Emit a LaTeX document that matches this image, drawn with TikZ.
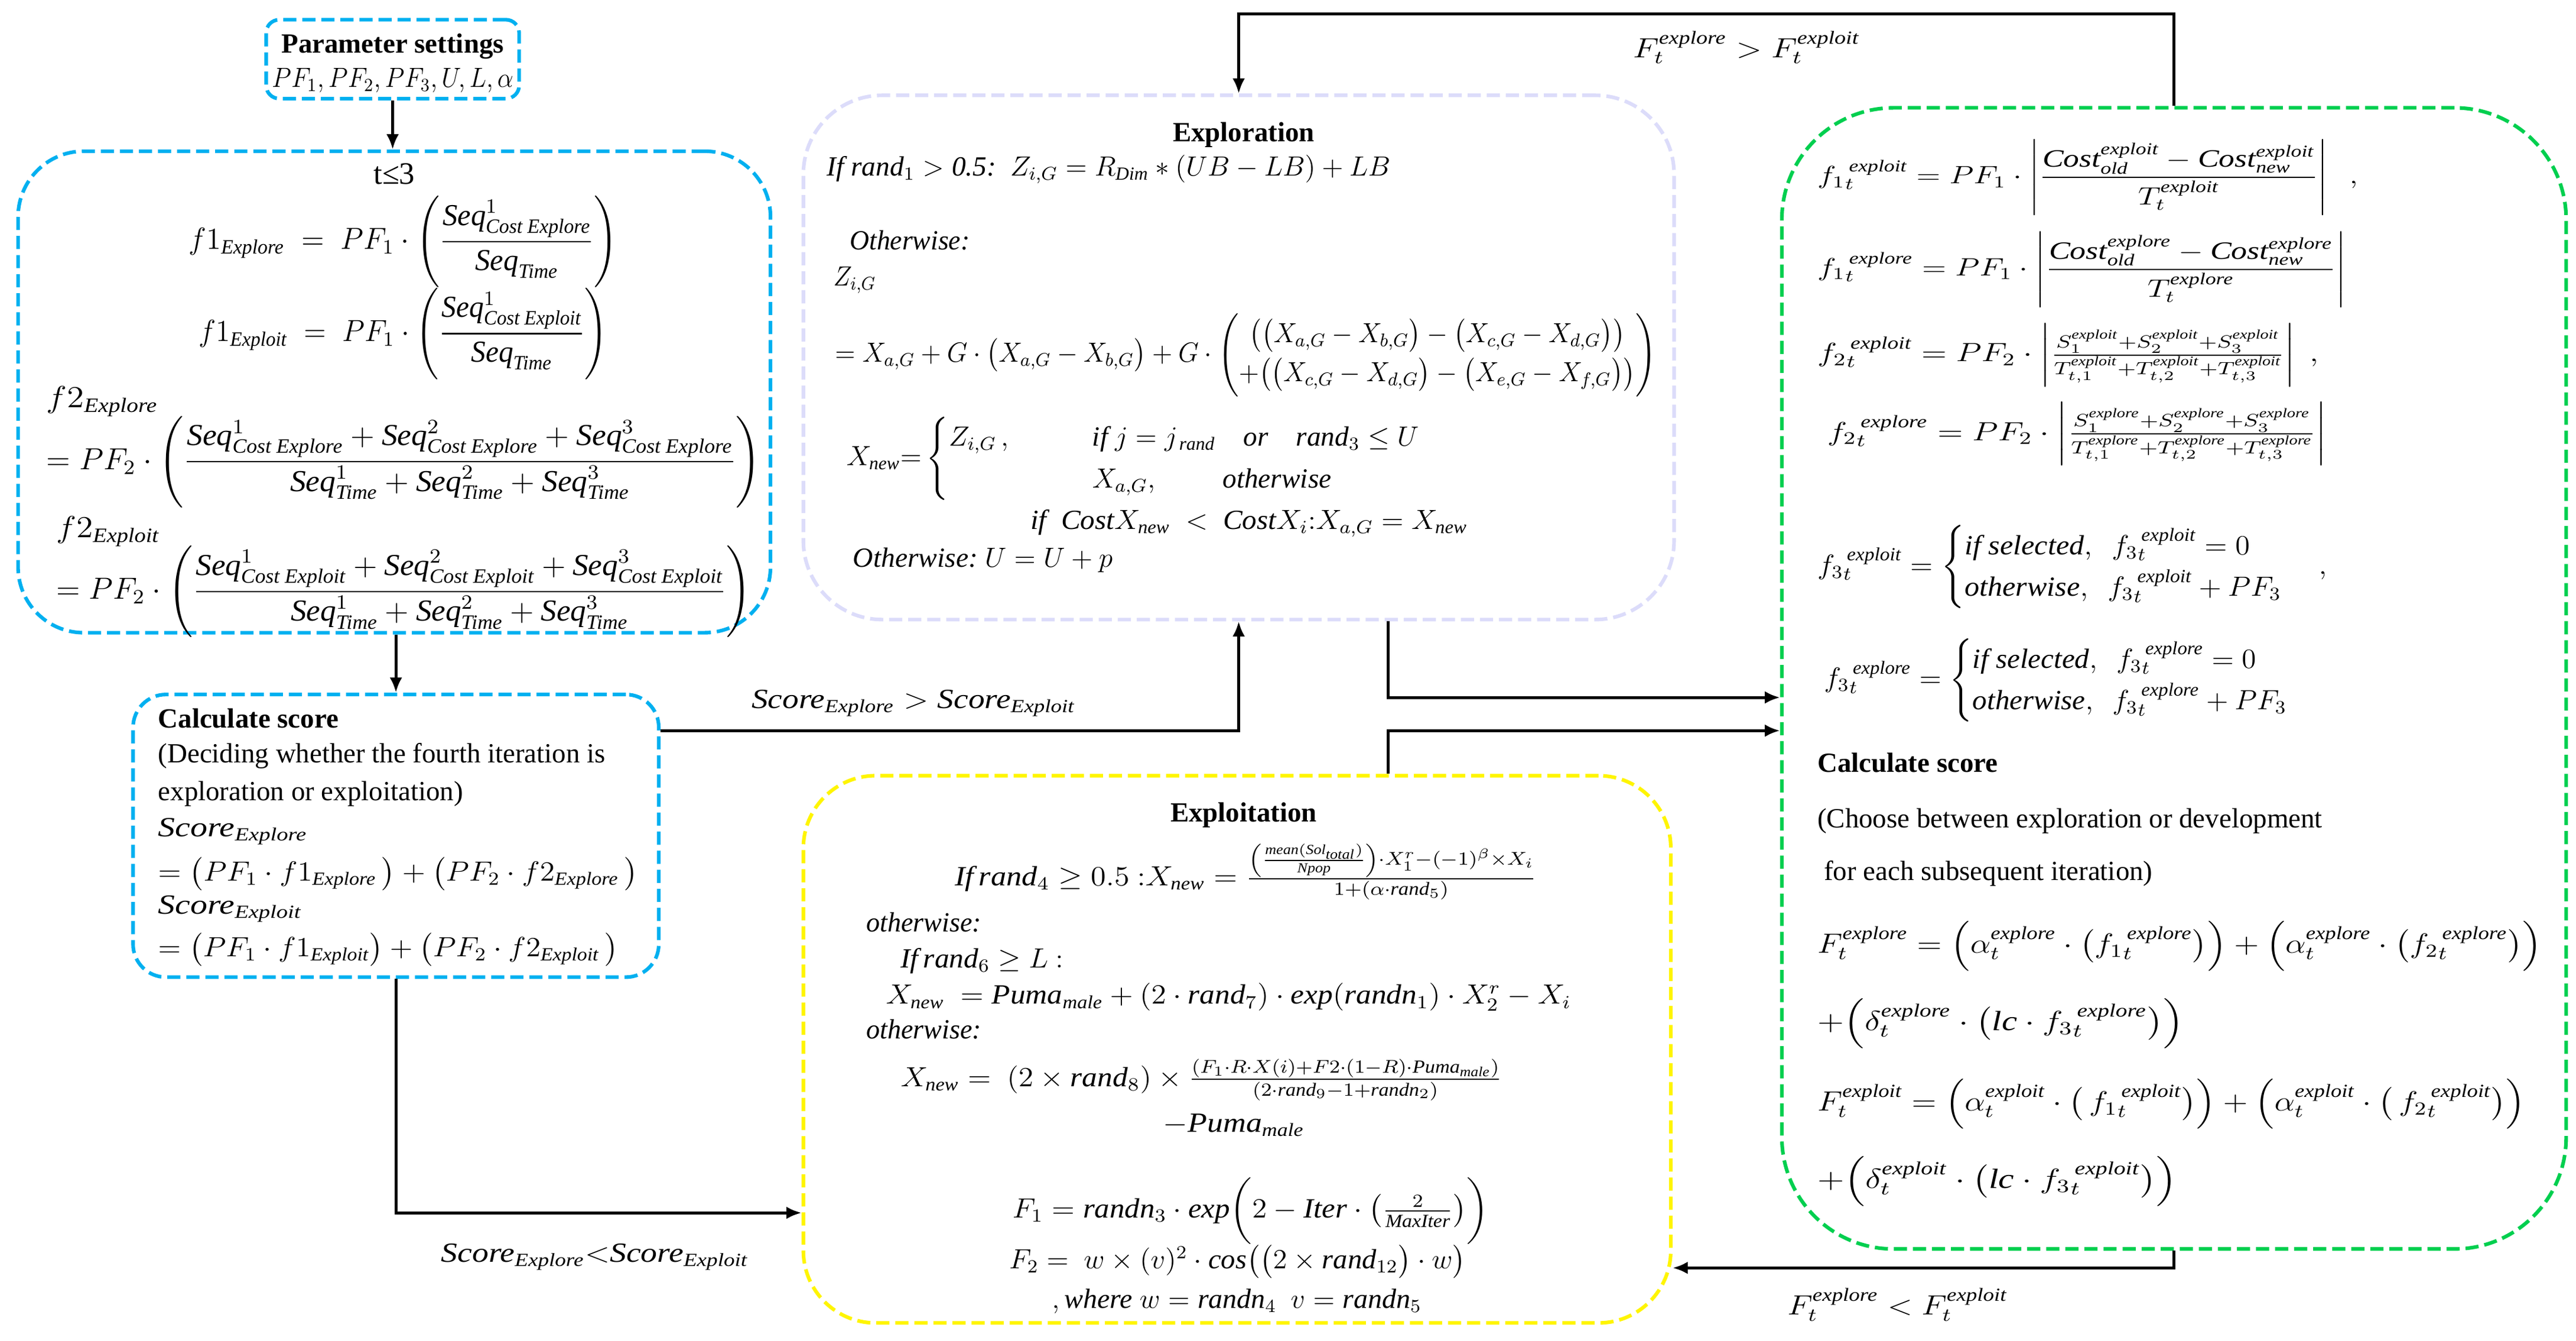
\documentclass[tikz,border=0pt]{standalone}
\usepackage{amsmath}
\usepackage{graphicx}
\usepackage{fontspec}
\setmainfont{Liberation Serif}
\usetikzlibrary{arrows.meta,fit}
\definecolor{cyanb}{HTML}{00B0F0}
\definecolor{lav}{HTML}{DCDCFA}
\definecolor{yel}{HTML}{FFF500}
\definecolor{grn}{HTML}{00CF4F}
\newlength\qu
\setlength\qu{0.25mm}
\newsavebox\zbox
\newcommand\mi[1]{\text{\itshape #1}}
% \rz[vertical factor]{target width in units}{content}
\newcommand\rz[3][1]{\sbox\zbox{#3}\resizebox{#2\qu}{#1\ht\zbox}{\usebox\zbox}}
\begin{document}
\begin{tikzpicture}[x=0.25mm,y=-0.25mm,
  box/.style={draw, line width=0.55mm, dash pattern=on 2mm off 0.9mm, inner sep=0pt},
  tx/.style={inner sep=0pt, font=\fontsize{12}{15}\selectfont},
  title/.style={tx, font=\fontsize{12}{15}\selectfont\bfseries, anchor=base},
  arr/.style={draw=black, line width=0.45mm, -{Latex[length=2.3mm,width=1.9mm]}}]
\fill[white] (0,0) rectangle (1568,816);
\useasboundingbox (0,0) rectangle (1568,816);

% boxes
\node[box, draw=cyanb, rounded corners=2mm, fit={(162,12) (316,60)}] (param) {};
\node[box, draw=cyanb, rounded corners=10mm, fit={(11,92) (469,385)}] (t3) {};
\node[box, draw=cyanb, rounded corners=5mm, fit={(81,422.6) (401,594.6)}] (calc) {};
\node[box, draw=lav, rounded corners=12mm, fit={(489,58) (1019,377)}] (explor) {};
\node[box, draw=yel, rounded corners=11mm, fit={(489,472) (1017,805)}] (exploit) {};
\node[box, draw=grn, rounded corners=17mm, fit={(1084.6,65.6) (1562,760)}] (green) {};

% parameter settings
\node[title] (pt) at (239,32) {Parameter settings};
\node[tx, anchor=base] (pv) at (239,53) {\rz{147}{$PF_1, PF_2, PF_3, U, L, \alpha$}};

% t<=3 box
\node[tx, anchor=base, font=\fontsize{13.5}{16}\selectfont] (t3h) at (240,112) {t≤3};
\node[tx] (f1e) at (245.5,147) {\rz[1.1]{261}{$\displaystyle f1_{\mi{Explore}} \;=\; PF_1\cdot\left(\frac{\mi{Seq}^1_{\mi{Cost Explore}}}{\mi{Seq}_{\mi{Time}}}\right)$}};
\node[tx] (f1x) at (245.5,203) {\rz[1.1]{249}{$\displaystyle f1_{\mi{Exploit}} \;=\; PF_1\cdot\left(\frac{\mi{Seq}^1_{\mi{Cost Exploit}}}{\mi{Seq}_{\mi{Time}}}\right)$}};
\node[tx, anchor=base west] (f2el) at (28,248) {\rz[1.1]{68}{$f2_{\mi{Explore}}$}};
\node[tx, anchor=west] (f2e) at (28,281) {\rz[1.1]{435}{$\displaystyle = PF_2\cdot\left(\frac{\mi{Seq}^1_{\mi{Cost Explore}}+\mi{Seq}^2_{\mi{Cost Explore}}+\mi{Seq}^3_{\mi{Cost Explore}}}{\mi{Seq}^1_{\mi{Time}}+\mi{Seq}^2_{\mi{Time}}+\mi{Seq}^3_{\mi{Time}}}\right)$}};
\node[tx, anchor=base west] (f2xl) at (34,327) {\rz[1.1]{63}{$f2_{\mi{Exploit}}$}};
\node[tx, anchor=west] (f2x) at (34,360) {\rz[1.1]{423}{$\displaystyle = PF_2\cdot\left(\frac{\mi{Seq}^1_{\mi{Cost Exploit}}+\mi{Seq}^2_{\mi{Cost Exploit}}+\mi{Seq}^3_{\mi{Cost Exploit}}}{\mi{Seq}^1_{\mi{Time}}+\mi{Seq}^2_{\mi{Time}}+\mi{Seq}^3_{\mi{Time}}}\right)$}};

% calculate score (left)
\node[title, anchor=base west] (cs1) at (96,443) {Calculate score};
\node[tx, anchor=base west] (cs2) at (96,464) {(Deciding whether the fourth iteration is};
\node[tx, anchor=base west] (cs3) at (96,487) {exploration or exploitation)};
\node[tx, anchor=base west] (cs4) at (96,509) {\rz{91}{$\mi{Score}_{\mi{Explore}}$}};
\node[tx, anchor=base west] (cs5) at (96,536) {\rz{292}{$=\bigl(PF_1\cdot f1_{\mi{Explore}}\,\bigr) + \bigl(PF_2\cdot f2_{\mi{Explore}}\,\bigr)$}};
\node[tx, anchor=base west] (cs6) at (96,556) {\rz{87.5}{$\mi{Score}_{\mi{Exploit}}$}};
\node[tx, anchor=base west] (cs7) at (96,582) {\rz{280}{$=\bigl(PF_1\cdot f1_{\mi{Exploit}}\bigr) + \bigl(PF_2\cdot f2_{\mi{Exploit}}\,\bigr)$}};

% exploration
\node[title] (exh) at (757,86) {Exploration};
\node[tx, anchor=base west] (ex1) at (503,107) {\rz{343}{$\mi{If}\ \mi{rand}_1 > \mi{0.5:}\ \ Z_{i,G} = R_{\mi{Dim}} * (UB - LB) + LB$}};
\node[tx, anchor=base west] (ex2) at (517,152) {\rz{73}{$\mi{Otherwise:}$}};
\node[tx, anchor=base west] (ex3) at (507,174) {\rz{26}{$Z_{i,G}$}};
\node[tx, anchor=west] (ex4) at (508,216) {\rz{500}{$\displaystyle = X_{a,G} + G\cdot\bigl(X_{a,G} - X_{b,G}\bigr) + G\cdot\left(\begin{matrix}\bigl(\bigl(X_{a,G} - X_{b,G}\bigr) - \bigl(X_{c,G} - X_{d,G}\bigr)\bigr)\\[2pt] +\bigl(\bigl(X_{c,G} - X_{d,G}\bigr) - \bigl(X_{e,G} - X_{f,G}\bigr)\bigr)\end{matrix}\right)$}};
\node[tx, anchor=west] (ex5) at (515,279) {\rz{350}{$X_{\mi{new}}{=}\begin{cases} Z_{i,G}\,,\qquad & \mi{if}\ j = j_{\,\mi{rand}}\quad \mi{or}\quad \mi{rand}_3\le U\\ & X_{a,G},\qquad\ \mi{otherwise}\end{cases}$}};
\node[tx, anchor=base west] (ex6) at (627,322) {\rz{266}{$\mi{if}\ \ \mi{Cost}X_{\mi{new}}\ <\ \mi{Cost}X_i{:}X_{a,G} = X_{\mi{new}}$}};
\node[tx, anchor=base west] (ex7) at (519,345) {\rz{158}{$\mi{Otherwise:}\ U = U + p$}};

% exploitation
\node[title] (xh) at (757,500) {Exploitation};
\node[tx, anchor=base west] (xp1) at (581,539) {\rz{354}{$\mi{If}\,\mi{rand}_4\geq 0.5\ {:}X_{\mi{new}} = \frac{\left(\frac{\mi{mean}(\mi{Sol}_{\mi{total}})}{\mi{Npop}}\right)\cdot X_1^r-(-1)^{\beta}\times X_i}{1+(\alpha\cdot\mi{rand}_5)}$}};
\node[tx, anchor=base west] (xp2) at (527,567) {\rz{70}{$\mi{otherwise:}$}};
\node[tx, anchor=base west] (xp3) at (548,589) {\rz{99}{$\mi{If}\,\mi{rand}_6\geq L\ {:}$}};
\node[tx, anchor=base west] (xp4) at (539,611) {\rz{417}{$X_{\mi{new}}\ = \mi{Puma}_{\mi{male}} + (2\cdot\mi{rand}_7)\cdot\mi{exp}(\mi{randn}_1)\cdot X_2^r - X_i$}};
\node[tx, anchor=base west] (xp5) at (527,632) {\rz{70}{$\mi{otherwise:}$}};
\node[tx, anchor=base west] (xp6) at (548,661) {\rz{366}{$X_{\mi{new}} = \ (2\times\mi{rand}_8)\times\frac{(F_1\cdot R\cdot X(i) + F2\cdot(1-R)\cdot\mi{Puma}_{\mi{male}})}{(2\cdot\mi{rand}_9 - 1 + \mi{randn}_2)}$}};
\node[tx, anchor=base] (xp7) at (751,689) {\rz{86}{$-\mi{Puma}_{\mi{male}}$}};
\node[tx, anchor=base west] (xp8) at (616,741) {\rz{290}{$F_1 = \mi{randn}_3\cdot\mi{exp}\biggl(2 - \mi{Iter}\cdot\left(\frac{2}{\mi{MaxIter}}\right)\biggr)$}};
\node[tx, anchor=base west] (xp9) at (614,772) {\rz{278}{$F_2 = \ w\times(v)^2\cdot\mi{cos}\bigl(\bigl(2\times\mi{rand}_{12}\bigr)\cdot w\bigr)$}};
\node[tx, anchor=base west] (xp10) at (640,796) {\rz{225}{$,\mi{where}\ w = \mi{randn}_4\ \ v = \mi{randn}_5$}};

% green box
\node[tx, anchor=west] (g1) at (1106,108) {\rz[0.9]{329}{$\displaystyle {f_1}_t^{\,\mi{exploit}} = PF_1\cdot\left|\frac{\mi{Cost}_{\mi{old}}^{\mi{exploit}} - \mi{Cost}_{\mi{new}}^{\mi{exploit}}}{T_t^{\mi{exploit}}}\right|\ \ ,$}};
\node[tx, anchor=west] (g2) at (1106,164) {\rz[0.9]{322}{$\displaystyle {f_1}_t^{\,\mi{explore}} = PF_1\cdot\left|\frac{\mi{Cost}_{\mi{old}}^{\mi{explore}} - \mi{Cost}_{\mi{new}}^{\mi{explore}}}{T_t^{\mi{explore}}}\right|$}};
\node[tx, anchor=west] (g3) at (1106,216) {\rz[0.95]{305}{${f_2}_t^{\,\mi{exploit}} = PF_2\cdot\left|\frac{S_1^{\mi{exploit}}+S_2^{\mi{exploit}}+S_3^{\mi{exploit}}}{T_{t,1}^{\mi{exploit}}+T_{t,2}^{\mi{exploit}}+T_{t,3}^{\mi{exploit}}}\right|\ ,$}};
\node[tx, anchor=west] (g4) at (1112,264) {\rz[0.95]{304}{${f_2}_t^{\,\mi{explore}} = PF_2\cdot\left|\frac{S_1^{\mi{explore}}+S_2^{\mi{explore}}+S_3^{\mi{explore}}}{T_{t,1}^{\mi{explore}}+T_{t,2}^{\mi{explore}}+T_{t,3}^{\mi{explore}}}\right|$}};
\node[tx, anchor=west] (g5) at (1106,345) {\rz{310}{${f_3}_t^{\,\mi{exploit}} = \begin{cases}\mi{if selected},\ \ {f_3}_t^{\,\mi{exploit}} = 0\\ \mi{otherwise},\ \ {f_3}_t^{\,\mi{exploit}} + PF_3\end{cases},$}};
\node[tx, anchor=west] (g6) at (1110,414) {\rz{301}{${f_3}_t^{\,\mi{explore}} = \begin{cases}\mi{if selected},\ \ {f_3}_t^{\,\mi{explore}} = 0\\ \mi{otherwise},\ \ {f_3}_t^{\,\mi{explore}} + PF_3\end{cases}$}};
\node[title, anchor=base west] (g7) at (1106,470) {Calculate score};
\node[tx, anchor=base west] (g8) at (1106,503.5) {(Choose between exploration or development};
\node[tx, anchor=base west] (g9) at (1110,535.5) {for each subsequent iteration)};
\node[tx, anchor=base west] (g10) at (1106,580) {\rz{441}{$F_t^{\mi{explore}} = \Bigl(\alpha_t^{\mi{explore}}\cdot\bigl({f_1}_t^{\,\mi{explore}}\bigr)\Bigr)+\Bigl(\alpha_t^{\mi{explore}}\cdot\bigl({f_2}_t^{\,\mi{explore}}\bigr)\Bigr)$}};
\node[tx, anchor=base west] (g11) at (1106,627) {\rz{223}{$+\Bigl(\delta_t^{\mi{explore}}\cdot\bigl(\mi{lc}\cdot{f_3}_t^{\,\mi{explore}}\bigr)\Bigr)$}};
\node[tx, anchor=base west] (g12) at (1106,676) {\rz{431}{$F_t^{\mi{exploit}} = \Bigl(\alpha_t^{\mi{exploit}}\cdot\bigl(\,{f_1}_t^{\,\mi{exploit}}\bigr)\Bigr)+\Bigl(\alpha_t^{\mi{exploit}}\cdot\bigl(\,{f_2}_t^{\,\mi{exploit}}\bigr)\Bigr)$}};
\node[tx, anchor=base west] (g13) at (1106,723) {\rz{219}{$+\Bigl(\delta_t^{\mi{exploit}}\cdot\bigl(\mi{lc}\cdot{f_3}_t^{\,\mi{exploit}}\bigr)\Bigr)$}};

% connector labels
\node[tx, anchor=base] (l1) at (556,431) {\rz{197}{$\mi{Score}_{\mi{Explore}} > \mi{Score}_{\mi{Exploit}}$}};
\node[tx, anchor=base] (l2) at (362,768) {\rz{187}{$\mi{Score}_{\mi{Explore}}{<}\mi{Score}_{\mi{Exploit}}$}};
\node[tx, anchor=base] (l3) at (1063,35) {\rz{138}{$F_t^{\mi{explore}} > F_t^{\mi{exploit}}$}};
\node[tx, anchor=base] (l4) at (1155,800) {\rz{134}{$F_t^{\mi{explore}} < F_t^{\mi{exploit}}$}};

% connectors
\coordinate (cE) at (754,444.6);
\coordinate (cX) at (241,738);
\coordinate (eG) at (845,424.4);
\coordinate (xG) at (845,444.6);
\coordinate (gT) at (1323,8.4);
\coordinate (gB) at (1323,771.5);
\draw[arr] (param.south) -- (param.south |- t3.north);
\draw[arr] (calc.north |- t3.south) -- (calc.north);
\draw[arr] (calc.east |- cE) -- (cE) -- (explor.south);
\draw[arr] (calc.south) -- (calc.south |- cX) -- (cX -| exploit.west);
\draw[arr] (explor.south -| eG) -- (eG) -- (eG -| green.west);
\draw[arr] (exploit.north -| xG) -- (xG) -- (xG -| green.west);
\draw[arr] (green.north) -- (green.north |- gT) -- (gT -| explor.north) -- (explor.north);
\draw[arr] (green.south) -- (green.south |- gB) -- (gB -| exploit.east);
\end{tikzpicture}
\end{document}
